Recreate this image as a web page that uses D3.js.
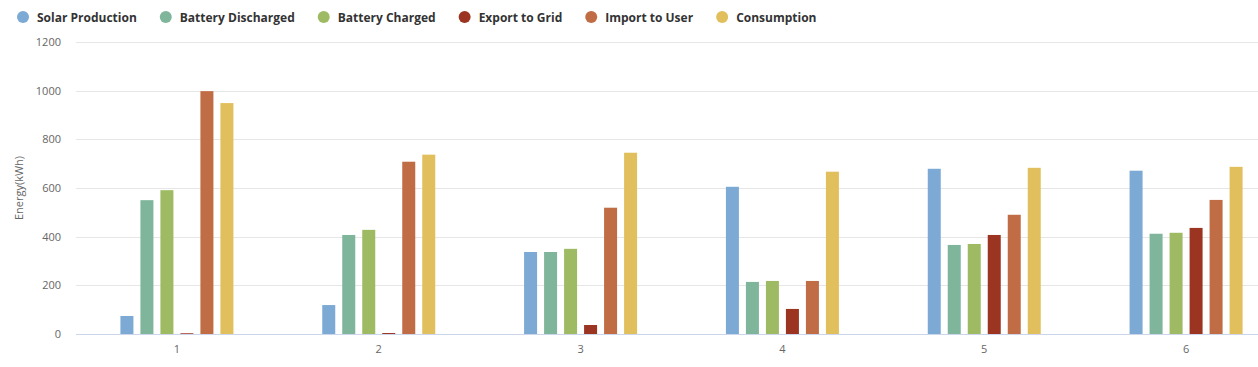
<!DOCTYPE html>
<html>
<head>
<meta charset="utf-8">
<script src="https://cdn.jsdelivr.net/npm/d3@7"></script>
<style>
  html, body { margin: 0; padding: 0; background: #fff; }
  svg { display: block; font-family: "Open Sans", "DejaVu Sans", sans-serif; }
</style>
</head>
<body>
<div class="graph-area"></div>
<script>
// chart data
const categories = ['1', '2', '3', '4', '5', '6'];
const seriesNames = ['Solar Production', 'Battery Discharged', 'Battery Charged', 'Export to Grid', 'Import to User', 'Consumption'];
const seriesColors = ['#7caad5', '#7fb59b', '#9ebb64', '#9b3521', '#c06c45', '#e2bf5d'];
const solarProduction = [74, 119, 337, 605, 679, 671];
const batteryDischarged = [550, 407, 337, 214, 366, 412];
const batteryCharged = [591, 428, 350, 218, 370, 416];
const exportToGrid = [3, 4, 37, 103, 407, 436];
const importToUser = [998, 708, 519, 218, 490, 551];
const consumption = [949, 737, 745, 667, 683, 687];
const yTicks = [0, 200, 400, 600, 800, 1000, 1200];

const seriesValues = [solarProduction, batteryDischarged, batteryCharged, exportToGrid, importToUser, consumption];

const chart = {
  width: 1258,
  height: 367,
  left: 76,
  right: 1287,   // plot runs past the window edge in the reference
  top: 42,
  bottom: 334,
  barWidth: 13,
  barStep: 20,
};

const svg = d3.select('.graph-area')
  .append('svg')
  .attr('width', chart.width)
  .attr('height', chart.height);

const x = d3.scaleBand().domain(categories).range([chart.left, chart.right]);
const inner = d3.scaleBand()
  .domain(seriesNames)
  .range([-(seriesNames.length * chart.barStep) / 2, (seriesNames.length * chart.barStep) / 2])
  .paddingInner(1 - chart.barWidth / chart.barStep)
  .paddingOuter((1 - chart.barWidth / chart.barStep) / 2);
const y = d3.scaleLinear().domain([0, 1200]).range([chart.bottom, chart.top]);

// grid lines
svg.append('g')
  .selectAll('line')
  .data(yTicks.filter(t => t > 0))
  .enter()
  .append('line')
  .attr('x1', chart.left)
  .attr('x2', chart.right)
  .attr('y1', d => Math.round(y(d)) + 0.5)
  .attr('y2', d => Math.round(y(d)) + 0.5)
  .attr('stroke', '#e6e6e6')
  .attr('stroke-width', 1);

// y axis labels
svg.append('g')
  .selectAll('text')
  .data(yTicks)
  .enter()
  .append('text')
  .attr('x', 61)
  .attr('y', d => y(d) + 4)
  .attr('text-anchor', 'end')
  .attr('fill', '#666666')
  .style('font-size', '11px')
  .text(d => d);

svg.append('text')
  .attr('transform', `translate(23,${(chart.top + chart.bottom) / 2}) rotate(-90)`)
  .attr('text-anchor', 'middle')
  .attr('fill', '#666666')
  .style('font-size', '11px')
  .text('Energy(kWh)');

// bars
const groups = svg.append('g')
  .selectAll('g')
  .data(categories)
  .enter()
  .append('g')
  .attr('transform', d => `translate(${x(d) + x.bandwidth() / 2},0)`);

groups.selectAll('rect')
  .data((c, ci) => seriesNames.map((name, si) => ({ name, color: seriesColors[si], value: seriesValues[si][ci] })))
  .enter()
  .append('rect')
  .attr('x', d => inner(d.name))
  .attr('width', inner.bandwidth())
  .attr('y', d => y(d.value))
  .attr('height', d => chart.bottom - y(d.value))
  .attr('fill', d => d.color);

// x axis
svg.append('line')
  .attr('x1', chart.left)
  .attr('x2', chart.right)
  .attr('y1', chart.bottom + 0.5)
  .attr('y2', chart.bottom + 0.5)
  .attr('stroke', '#ccd6eb');

groups.append('text')
  .attr('y', 353)
  .attr('text-anchor', 'middle')
  .attr('fill', '#666666')
  .style('font-size', '11px')
  .text(d => d);

// legend
const legend = svg.append('g').attr('transform', 'translate(23,17)');
let legendX = 0;
seriesNames.forEach((name, i) => {
  const item = legend.append('g').attr('transform', `translate(${legendX},0)`);
  item.append('circle')
    .attr('r', 6)
    .attr('fill', seriesColors[i]);
  const label = item.append('text')
    .attr('x', 14)
    .attr('y', 4.5)
    .attr('fill', '#333333')
    .style('font-size', '12px')
    .style('font-weight', 'bold')
    .text(name);
  legendX += 14 + label.node().getComputedTextLength() + 29;
});
</script>
</body>
</html>
